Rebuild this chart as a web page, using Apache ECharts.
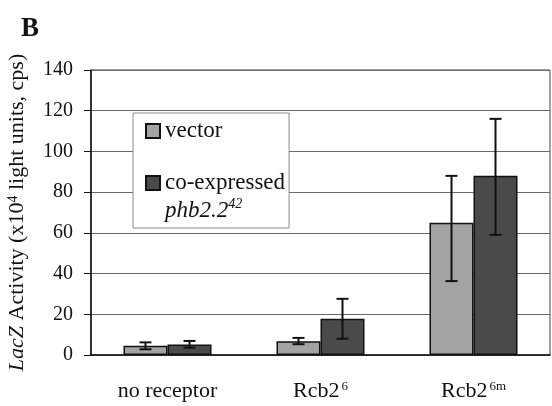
<!DOCTYPE html>
<html>
<head>
<meta charset="utf-8">
<script src="https://cdn.jsdelivr.net/npm/echarts@6/dist/echarts.min.js"></script>
<style>
html,body{margin:0;padding:0;background:#fff;}
#chart{width:552px;height:406px;}
</style>
</head>
<body>
<div id="chart"></div>
<script>
// ---- data ----
const categories = ['no receptor', 'Rcb2^6', 'Rcb2^6m'];
const seriesNames = ['vector', 'co-expressed'];
const vectorValues = [4.5, 6.8, 65];
const vectorLow = [2.8, 5.3, 36.3];
const vectorHigh = [6.2, 8.4, 88];
const coexpValues = [5.2, 17.8, 88];
const coexpLow = [3.6, 8, 59];
const coexpHigh = [6.9, 27.6, 116];
const yMin = 0, yMax = 140, yInterval = 20;

const FONT = 'Liberation Serif';
const BAR_PCT = 0.2876;

const chart = echarts.init(document.getElementById('chart'), null, {renderer: 'canvas'});

function errSeries(low, high, sign) {
  return {
    type: 'custom',
    z: 10,
    silent: true,
    data: low.map((l, i) => [i, l, high[i]]),
    renderItem: function (params, api) {
      const i = api.value(0);
      const lo = api.coord([i, api.value(1)]);
      const hi = api.coord([i, api.value(2)]);
      const band = api.size([1, 0])[0];
      const cx = lo[0] + sign * band * BAR_PCT / 2;
      const cap = 6;
      const st = {stroke: '#111', lineWidth: 2};
      return {
        type: 'group',
        children: [
          {type: 'line', shape: {x1: cx, y1: lo[1], x2: cx, y2: hi[1]}, style: st},
          {type: 'line', shape: {x1: cx - cap, y1: lo[1], x2: cx + cap, y2: lo[1]}, style: st},
          {type: 'line', shape: {x1: cx - cap, y1: hi[1], x2: cx + cap, y2: hi[1]}, style: st}
        ]
      };
    }
  };
}

const option = {
  animation: false,
  backgroundColor: '#fff',
  title: {
    text: 'B', left: 16, top: 11,
    textStyle: {fontFamily: FONT, fontWeight: 'bold', fontSize: 27, color: '#111'}
  },
  grid: {
    left: 91, right: 2, top: 70, bottom: 51,
    outerBoundsMode: 'none',
    containLabel: false,
    show: true, borderColor: '#444', borderWidth: 1, backgroundColor: 'transparent'
  },
  legend: {
    orient: 'vertical',
    left: 133, top: 113,
    padding: [6, 4, 3, 12],
    itemGap: -2,
    itemWidth: 14, itemHeight: 14,
    icon: 'rect',
    selectedMode: false,
    backgroundColor: '#fff',
    borderColor: '#8a8a8a', borderWidth: 1,
    textStyle: {
      fontFamily: FONT, fontSize: 23, color: '#111',
      rich: {
        i: {fontFamily: FONT, fontSize: 23, fontStyle: 'italic', color: '#111', lineHeight: 28},
        s: {fontFamily: FONT, fontSize: 14, fontStyle: 'italic', color: '#111', verticalAlign: 'top', lineHeight: 28}
      }
    },
    data: [
      {name: seriesNames[0], textStyle: {lineHeight: 24}},
      {name: seriesNames[1], textStyle: {lineHeight: 28, padding: [28, 0, 0, 0]}}
    ],
    formatter: function (name) {
      if (name === seriesNames[1]) return name + '\n{i|phb2.2}{s|42}';
      return name;
    }
  },
  xAxis: {
    type: 'category',
    data: categories,
    axisLine: {lineStyle: {color: '#111', width: 1.5}},
    axisTick: {length: 7, lineStyle: {color: '#111', width: 1}},
    axisLabel: {
      margin: 25,
      fontFamily: FONT, fontSize: 22, color: '#111',
      formatter: function (v) {
        const p = v.split('^');
        return p.length > 1 ? p[0] + '{s|' + p[1] + '}' : v;
      },
      rich: {
        s: {fontFamily: FONT, fontSize: 13, color: '#111', verticalAlign: 'top', padding: [0, 0, 0, 2]}
      }
    },
    splitLine: {show: false}
  },
  yAxis: {
    type: 'value',
    min: yMin, max: yMax, interval: yInterval,
    name: '{i|LacZ} Activity (x10{s|4} light units, cps)',
    nameLocation: 'middle',
    nameRotate: 90,
    nameGap: 63,
    nameTextStyle: {
      fontFamily: FONT, fontSize: 22, color: '#111',
      rich: {
        i: {fontFamily: FONT, fontSize: 22, fontStyle: 'italic', color: '#111'},
        s: {fontFamily: FONT, fontSize: 14, color: '#111', verticalAlign: 'top'}
      }
    },
    axisLine: {show: true, lineStyle: {color: '#111', width: 1.5}},
    axisTick: {show: true, length: 7, lineStyle: {color: '#111', width: 1}},
    axisLabel: {margin: 18, fontFamily: FONT, fontSize: 20, color: '#111'},
    splitLine: {show: true, lineStyle: {color: '#6a6a6a', width: 1}}
  },
  series: [
    {
      name: seriesNames[0], type: 'bar',
      data: vectorValues,
      barWidth: (BAR_PCT * 100) + '%', barGap: '0%',
      itemStyle: {color: '#a3a3a3', borderColor: '#111', borderWidth: 1.5}
    },
    {
      name: seriesNames[1], type: 'bar',
      data: coexpValues,
      barWidth: (BAR_PCT * 100) + '%', barGap: '0%',
      itemStyle: {color: '#4a4a4a', borderColor: '#111', borderWidth: 1.5}
    },
    errSeries(vectorLow, vectorHigh, -1),
    errSeries(coexpLow, coexpHigh, 1)
  ]
};
chart.setOption(option);
</script>
</body>
</html>
